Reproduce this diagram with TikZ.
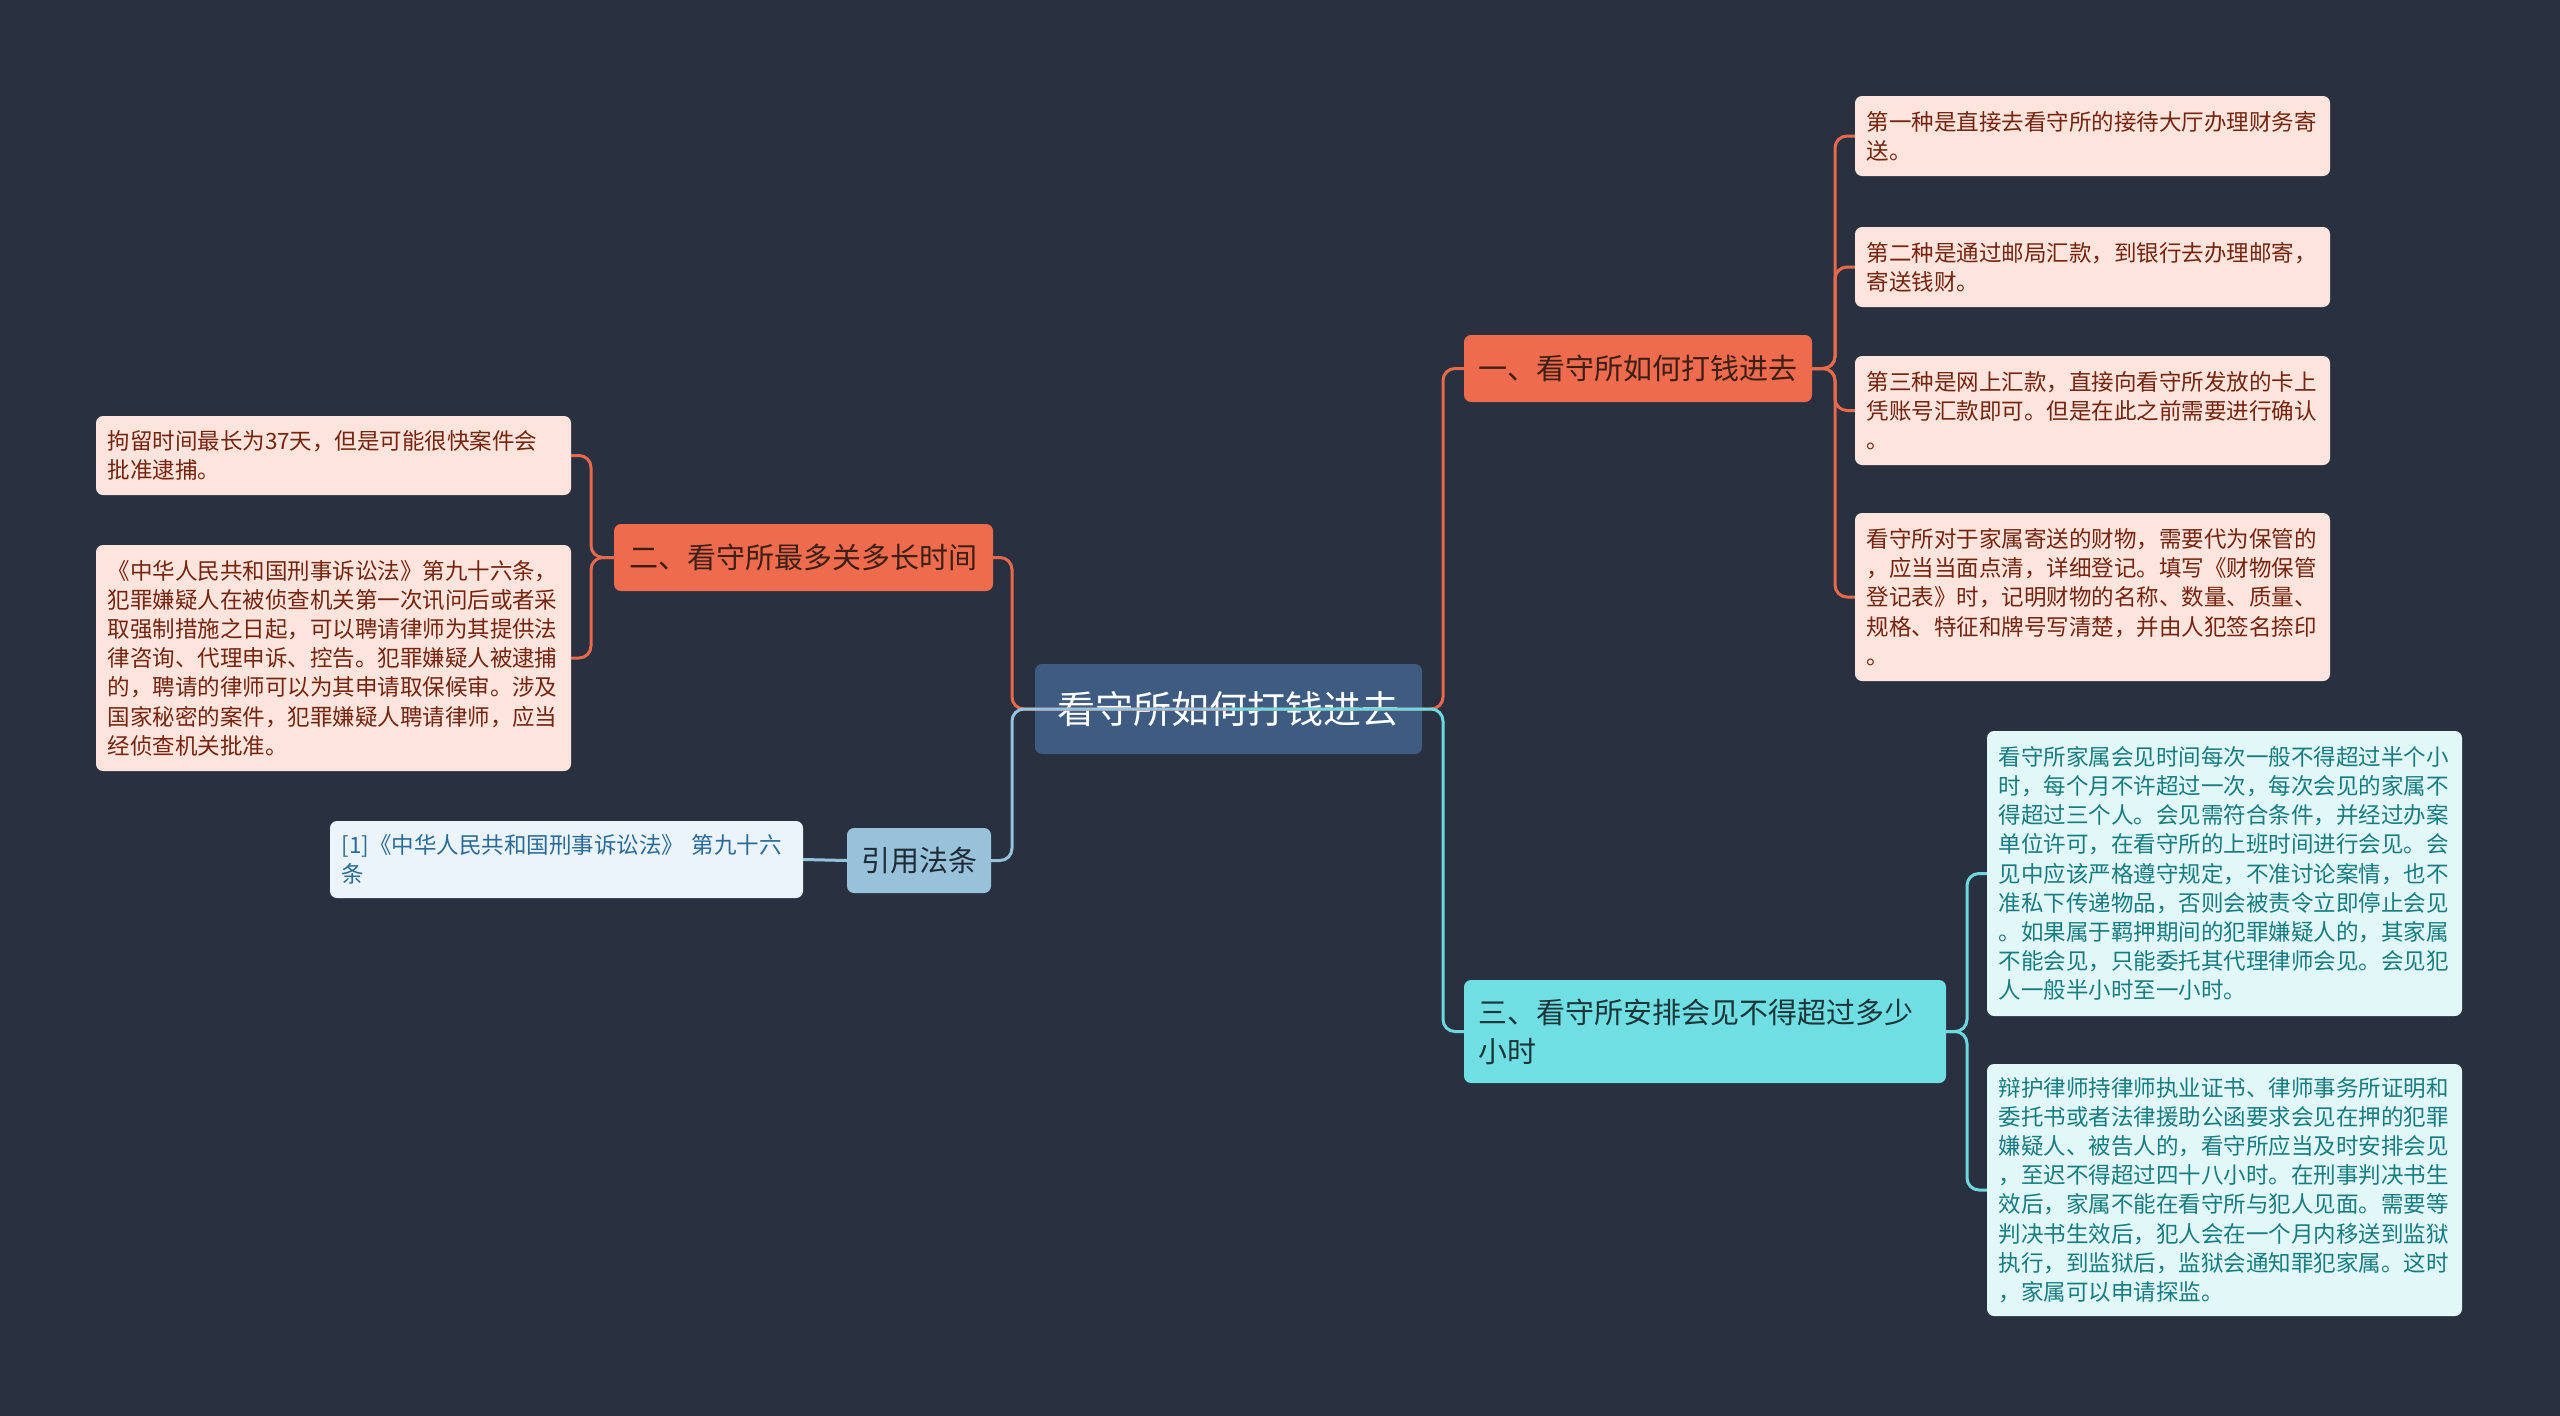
\documentclass[tikz,border=0pt]{standalone}
\usepackage{fontspec}
\newfontfamily\cjk{Noto Sans CJK SC}
\definecolor{bgc}{HTML}{293140}
\definecolor{cfill}{HTML}{3E5B81}
\definecolor{ofill}{HTML}{EE6C4D}
\definecolor{olfill}{HTML}{FDE4DD}
\definecolor{oltext}{HTML}{74240F}
\definecolor{otext}{HTML}{3D1F16}
\definecolor{cyfill}{HTML}{6FDFE4}
\definecolor{cylfill}{HTML}{E1F7F8}
\definecolor{cyltext}{HTML}{177C80}
\definecolor{cytext}{HTML}{1C3538}
\definecolor{bfill}{HTML}{98C1DA}
\definecolor{btext}{HTML}{1E2B36}
\definecolor{blfill}{HTML}{EAF4FA}
\definecolor{bltext}{HTML}{2A6A96}
\definecolor{oline}{HTML}{E9694B}
\definecolor{bline}{HTML}{97C2DD}
\definecolor{cyline}{HTML}{6CD9E0}
\begin{document}
\begin{tikzpicture}[x=1pt,y=-1pt,
  box/.style={rounded corners=7pt, inner sep=0pt},
  rootbox/.style={box, fill=cfill, text=white, font=\cjk\fontsize{38}{44}\selectfont},
  obranch/.style={box, fill=ofill, text=otext, font=\cjk\fontsize{29}{39}\selectfont},
  cybranch/.style={box, fill=cyfill, text=cytext, font=\cjk\fontsize{29}{39}\selectfont, align=left, text width=454pt, inner xsep=14pt},
  bbranch/.style={box, fill=bfill, text=btext, font=\cjk\fontsize{29}{39}\selectfont},
  leafbase/.style={box, font=\cjk\fontsize{22.5}{29.2}\selectfont, align=left, text width=452pt, inner xsep=11.5pt},
  oleaf/.style={leafbase, fill=olfill, text=oltext},
  cyleaf/.style={leafbase, fill=cylfill, text=cyltext},
  bleaf/.style={leafbase, fill=blfill, text=bltext, text width=450pt},
  olink/.style={draw=oline, line width=3pt, rounded corners=12pt},
  blink/.style={draw=bline, line width=3pt, rounded corners=12pt},
  cylink/.style={draw=cyline, line width=3pt, rounded corners=12pt}
]
\fill[bgc] (0,0) rectangle (2560,1416);
\useasboundingbox (0,0) rectangle (2560,1416);

% trunk coordinates
\coordinate (tL) at (1012,0);
\coordinate (tR) at (1443,0);
\coordinate (tR1) at (1835,0);
\coordinate (tL2) at (591,0);
\coordinate (tR3) at (1967,0);

% nodes
\node[rootbox, minimum width=387pt, minimum height=90pt] (c) at (1228.5,709) {看守所如何打钱进去};
\node[obranch, minimum width=348pt, minimum height=67pt] (b1) at (1638,368.5) {一、看守所如何打钱进去};
\node[obranch, minimum width=379pt, minimum height=67pt] (b2) at (803.5,557.5) {二、看守所最多关多长时间};
\node[cybranch, minimum height=103pt] (b3) at (1705,1031.5) {三、看守所安排会见不得超过多少\\小时};
\node[bbranch, minimum width=144pt, minimum height=65pt] (rf) at (919,860.5) {引用法条};

\node[oleaf, minimum height=80pt] (r1) at (2092.5,136) {第一种是直接去看守所的接待大厅办理财务寄\\送。};
\node[oleaf, minimum height=80pt] (r2) at (2092.5,267) {第二种是通过邮局汇款，到银行去办理邮寄，\\寄送钱财。};
\node[oleaf, minimum height=109pt] (r3) at (2092.5,410.5) {第三种是网上汇款，直接向看守所发放的卡上\\凭账号汇款即可。但是在此之前需要进行确认\\。};
\node[oleaf, minimum height=168pt] (r4) at (2092.5,597) {看守所对于家属寄送的财物，需要代为保管的\\，应当当面点清，详细登记。填写《财物保管\\登记表》时，记明财物的名称、数量、质量、\\规格、特征和牌号写清楚，并由人犯签名捺印\\。};

\node[cyleaf, minimum height=285pt] (ca) at (2224.5,873.5) {看守所家属会见时间每次一般不得超过半个小\\时，每个月不许超过一次，每次会见的家属不\\得超过三个人。会见需符合条件，并经过办案\\单位许可，在看守所的上班时间进行会见。会\\见中应该严格遵守规定，不准讨论案情，也不\\准私下传递物品，否则会被责令立即停止会见\\。如果属于羁押期间的犯罪嫌疑人的，其家属\\不能会见，只能委托其代理律师会见。会见犯\\人一般半小时至一小时。};
\node[cyleaf, minimum height=252pt] (cb) at (2224.5,1190) {辩护律师持律师执业证书、律师事务所证明和\\委托书或者法律援助公函要求会见在押的犯罪\\嫌疑人、被告人的，看守所应当及时安排会见\\，至迟不得超过四十八小时。在刑事判决书生\\效后，家属不能在看守所与犯人见面。需要等\\判决书生效后，犯人会在一个月内移送到监狱\\执行，到监狱后，监狱会通知罪犯家属。这时\\，家属可以申请探监。};

\node[oleaf, minimum height=79pt] (l1) at (333.5,455.5) {拘留时间最长为37天，但是可能很快案件会\\批准逮捕。};
\node[oleaf, minimum height=226pt] (l2) at (333.5,658) {《中华人民共和国刑事诉讼法》第九十六条，\\犯罪嫌疑人在被侦查机关第一次讯问后或者采\\取强制措施之日起，可以聘请律师为其提供法\\律咨询、代理申诉、控告。犯罪嫌疑人被逮捕\\的，聘请的律师可以为其申请取保候审。涉及\\国家秘密的案件，犯罪嫌疑人聘请律师，应当\\经侦查机关批准。};

\node[bleaf, minimum height=77pt] (rl) at (566.5,859.5) {[1]《中华人民共和国刑事诉讼法》~第九十六\\条};

% connectors from root
\draw[olink] (c.center) -- (c.center -| tL) |- (b2.east);
\draw[olink] (c.center) -- (c.center -| tR) |- (b1.west);
\draw[blink] (c.center) -- (c.center -| tL) |- (rf.east);
\draw[cylink] (c.center) -- (c.center -| tR) |- (b3.west);

% branch 1 leaves
\draw[olink] (b1.east) -- (b1.east -| tR1) |- (r1.west);
\draw[olink] (b1.east) -- (b1.east -| tR1) |- (r2.west);
\draw[olink] (b1.east) -- (b1.east -| tR1) |- (r3.west);
\draw[olink] (b1.east) -- (b1.east -| tR1) |- (r4.west);

% branch 2 leaves
\draw[olink] (b2.west) -- (b2.west -| tL2) |- (l1.east);
\draw[olink] (b2.west) -- (b2.west -| tL2) |- (l2.east);

% reference leaf
\draw[blink] (rf.west) -- (rl.east);

% branch 3 leaves
\draw[cylink] (b3.east) -- (b3.east -| tR3) |- (ca.west);
\draw[cylink] (b3.east) -- (b3.east -| tR3) |- (cb.west);
\end{tikzpicture}
\end{document}
